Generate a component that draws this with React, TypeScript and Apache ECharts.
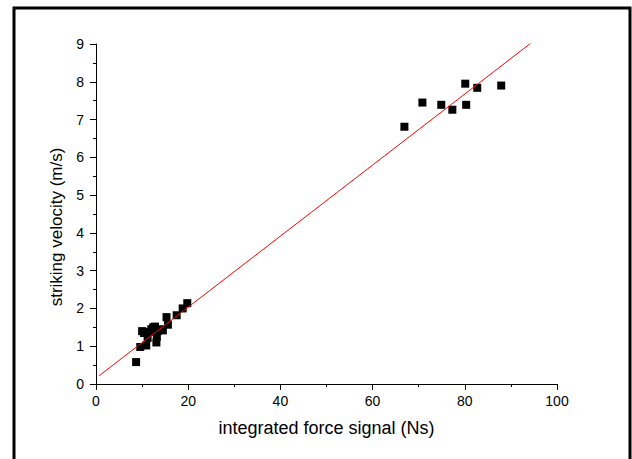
import React, { useEffect, useRef } from "react";
import * as echarts from "echarts";

const forceSignal = [8.7, 9.6, 10.0, 10.4, 10.9, 11.2, 11.5, 12.0, 12.4, 12.8, 13.1, 13.2, 13.4, 13.9, 14.5, 15.3, 15.6, 17.5, 18.8, 19.8, 66.9, 70.8, 74.9, 77.3, 80.1, 80.3, 82.7, 87.9];
const velocity = [0.58, 0.98, 1.4, 1.35, 1.02, 1.22, 1.38, 1.45, 1.5, 1.52, 1.1, 1.25, 1.4, 1.45, 1.42, 1.77, 1.57, 1.82, 2.0, 2.14, 6.81, 7.45, 7.39, 7.26, 7.95, 7.39, 7.84, 7.9];
const fitX = [0.7, 94.4];
const fitY = [0.22, 9.03];
const xName = "integrated force signal (Ns)";
const yName = "striking velocity (m/s)";

export default function App() {
  const ref = useRef<HTMLDivElement>(null);
  useEffect(() => {
    const chart = echarts.init(ref.current!, null, { renderer: "svg" });
    const font = "Liberation Sans";
    chart.setOption({
      animation: false,
      backgroundColor: "#ffffff",
      grid: { left: 96, right: 75, top: 44, bottom: 75 },
      graphic: [
        {
          type: "rect",
          shape: { x: 14, y: 8, width: 616, height: 480 },
          style: { fill: "none", stroke: "#000", lineWidth: 3 },
          silent: true,
        },
      ],
      xAxis: {
        type: "value",
        min: 0,
        max: 100,
        interval: 20,
        name: xName,
        nameLocation: "middle",
        nameGap: 35,
        nameTextStyle: { fontFamily: font, fontSize: 18, color: "#000" },
        axisLine: { lineStyle: { color: "#000", width: 1 } },
        axisTick: { show: true, length: 6, lineStyle: { color: "#000" } },
        minorTick: { show: true, splitNumber: 2, length: 3, lineStyle: { color: "#000" } },
        axisLabel: { fontFamily: font, fontSize: 14, color: "#000", margin: 10 },
        splitLine: { show: false },
      },
      yAxis: {
        type: "value",
        min: 0,
        max: 9,
        interval: 1,
        name: yName,
        nameLocation: "middle",
        nameGap: 26,
        nameTextStyle: { fontFamily: font, fontSize: 17, color: "#000", padding: [0, 26, 0, 0] },
        axisLine: { show: true, lineStyle: { color: "#000", width: 1 } },
        axisTick: { show: true, length: 6, lineStyle: { color: "#000" } },
        minorTick: { show: true, splitNumber: 2, length: 3, lineStyle: { color: "#000" } },
        axisLabel: { fontFamily: font, fontSize: 14, color: "#000", margin: 12 },
        splitLine: { show: false },
      },
      series: [
        {
          type: "line",
          data: fitX.map((x, i) => [x, fitY[i]]),
          symbol: "none",
          lineStyle: { color: "#ff0000", width: 1 },
          z: 3,
        },
        {
          type: "scatter",
          data: forceSignal.map((x, i) => [x, velocity[i]]),
          symbol: "rect",
          symbolSize: 8,
          itemStyle: { color: "#000", opacity: 1 },
          z: 2,
        },
      ],
    });
    return () => chart.dispose();
  }, []);
  return (
    <div
      ref={ref}
      style={{ position: "absolute", left: 0, top: 0, width: 632, height: 459 }}
    />
  );
}
